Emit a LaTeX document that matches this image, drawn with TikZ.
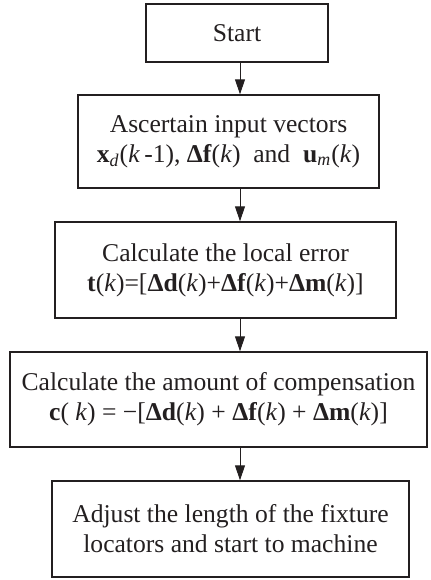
\documentclass[tikz,border=0pt]{standalone}
\usepackage{fontspec}
\setmainfont{Liberation Serif}
\usetikzlibrary{arrows.meta}

\definecolor{ink}{RGB}{35,31,32}
\newcommand{\bv}[1]{\textbf{#1}}
\newcommand{\ik}{\textit{k}}

\begin{document}
\begin{tikzpicture}[x=0.5pt,y=-0.5pt,
    stepbox/.style={draw=ink, line width=0.7pt, inner sep=0pt, align=center,
        text=ink, font=\fontsize{12.8}{15}\selectfont},
    flow/.style={draw=ink, line width=0.5pt, -{Triangle[length=7.5pt,width=5pt]}}]

\useasboundingbox (0,0) rectangle (430,580);

% -----------------------------
% Boxes (sizes in pt, half the pixel size)
% -----------------------------
\node[stepbox, minimum width=91pt, minimum height=29pt] (start) at (237,33) {Start};

\node[stepbox, minimum width=150.5pt, minimum height=46.5pt] (ascertain) at (228.5,141.5)
    {Ascertain input vectors\\
     \bv{x}\textsubscript{\textit{d}}(\ik\,-1), \bv{Δf}(\ik)~ and ~\bv{u}\textsubscript{\textit{m}}(\ik)};

\node[stepbox, minimum width=170.5pt, minimum height=48pt] (localerr) at (225.5,270)
    {Calculate the local error\\
     \bv{t}(\ik)=[\bv{Δd}(\ik)+\bv{Δf}(\ik)+\bv{Δm}(\ik)]};

\node[stepbox, minimum width=208.5pt, minimum height=47.5pt] (compens) at (218.5,399.5)
    {Calculate the amount of compensation\\
     \bv{c}(~\ik) = −[\bv{Δd}(\ik) + \bv{Δf}(\ik) + \bv{Δm}(\ik)]};

\node[stepbox, minimum width=178.5pt, minimum height=48pt] (adjust) at (230.5,529)
    {Adjust the length of the fixture\\ locators and start to machine};

% -----------------------------
% Arrows (all on one vertical line)
% -----------------------------
\coordinate (axis) at (240,0);
\draw[flow] (start.south -| axis) -- (ascertain.north -| axis);
\draw[flow] (ascertain.south -| axis) -- (localerr.north -| axis);
\draw[flow] (localerr.south -| axis) -- (compens.north -| axis);
\draw[flow] (compens.south -| axis) -- (adjust.north -| axis);

\end{tikzpicture}
\end{document}
